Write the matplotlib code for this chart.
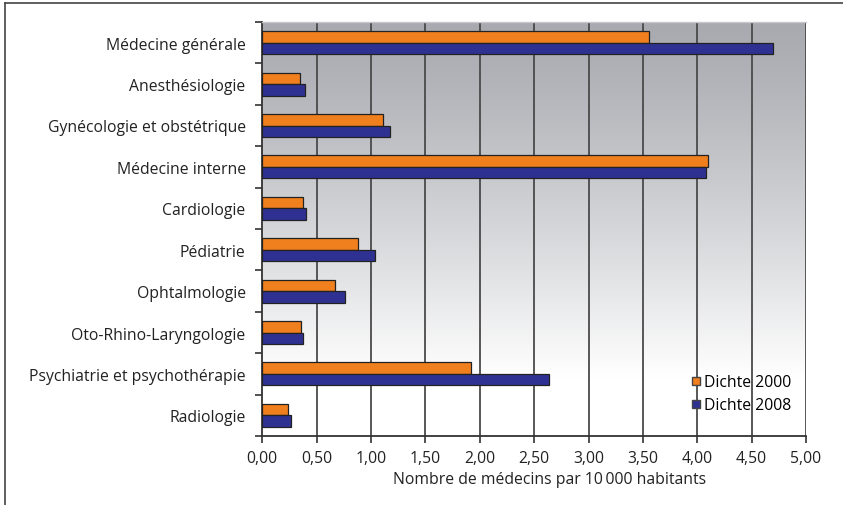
import numpy as np
import matplotlib
matplotlib.use("Agg")
import matplotlib.pyplot as plt
from matplotlib.lines import Line2D

plt.rcParams['font.family'] = ['Open Sans', 'DejaVu Sans']

categories = [
    "Médecine générale",
    "Anesthésiologie",
    "Gynécologie et obstétrique",
    "Médecine interne",
    "Cardiologie",
    "Pédiatrie",
    "Ophtalmologie",
    "Oto-Rhino-Laryngologie",
    "Psychiatrie et psychothérapie",
    "Radiologie",
]
dichte_2000 = [3.56, 0.35, 1.11, 4.10, 0.37, 0.88, 0.67, 0.36, 1.92, 0.24]
dichte_2008 = [4.70, 0.39, 1.17, 4.08, 0.40, 1.04, 0.76, 0.37, 2.64, 0.26]
series_labels = ["Dichte 2000", "Dichte 2008"]
xticks = [0, 0.5, 1.0, 1.5, 2.0, 2.5, 3.0, 3.5, 4.0, 4.5, 5.0]
xlabel = "Nombre de médecins par 10\u2009000 habitants"

orange = "#f07f1e"
blue = "#2e3192"
fs = 11.3

fig = plt.figure(figsize=(8.43, 5.06), dpi=100)
ax = fig.add_axes([262.3 / 843, 1 - 437 / 506, (806 - 262.3) / 843, (437 - 23) / 506])

n = len(categories)
ax.set_xlim(0, 5)
ax.set_ylim(n - 0.5, -0.5)

# grey-to-white vertical gradient behind the bars
t = np.linspace(0, 1, 300)
shade = np.clip(t / 0.86, 0, 1) ** 1.2
top = np.array([0.66, 0.667, 0.69])
rgb = top[None, :] + (1 - top[None, :]) * shade[:, None]
img = np.repeat(rgb[:, None, :], 2, axis=1)
ax.imshow(img, extent=[0, 5, n - 0.5, -0.5], aspect="auto", zorder=0,
          interpolation="bilinear")

# vertical grid lines
for xv in xticks[1:]:
    ax.axvline(xv, color="#4a4a4a", lw=1.3, zorder=1)

y = np.arange(n)
h = 0.28
ax.barh(y - h / 2, dichte_2000, height=h, color=orange, edgecolor="#222222",
        linewidth=0.9, zorder=3, label=series_labels[0])
ax.barh(y + h / 2, dichte_2008, height=h, color=blue, edgecolor="#222222",
        linewidth=0.9, zorder=3, label=series_labels[1])

ax.set_yticks(y)
ax.set_yticklabels(categories, fontsize=fs, color="#222222")
ax.set_yticks(np.arange(-0.5, n, 1), minor=True)
ax.tick_params(axis="y", which="major", length=0, pad=12)
ax.tick_params(axis="y", which="minor", length=5, width=1.2, color="#333333")

ax.set_xticks(xticks)
ax.set_xticklabels([f"{v:.2f}".replace(".", ",") for v in xticks],
                   fontsize=fs, color="#222222")
ax.tick_params(axis="x", length=5, width=1.2, color="#333333", pad=5)
ax.set_xlabel(xlabel, fontsize=fs, color="#222222", labelpad=5)
ax.xaxis.set_label_coords(0.528, -0.085)

for side in ["left", "bottom"]:
    ax.spines[side].set_color("#333333")
    ax.spines[side].set_linewidth(1.3)
ax.spines["right"].set_visible(False)
ax.spines["top"].set_color("#c8c8cc")
ax.spines["top"].set_linewidth(1.0)

handles = [
    Line2D([], [], marker="s", ls="", markersize=6, markerfacecolor=orange,
           markeredgecolor="#444444", markeredgewidth=1.0),
    Line2D([], [], marker="s", ls="", markersize=6, markerfacecolor=blue,
           markeredgecolor="#444444", markeredgewidth=1.0),
]
ax.legend(handles, series_labels, loc="lower right",
          bbox_to_anchor=(0.984, 0.04), frameon=False, fontsize=fs,
          handlelength=0.6, handletextpad=0.2, labelspacing=0.45,
          borderaxespad=0)

# outer frame lines of the figure
fig.add_artist(Line2D([5 / 843, 1], [1 - 4 / 506, 1 - 4 / 506],
                      transform=fig.transFigure, color="#444444", lw=1.2))
fig.add_artist(Line2D([5 / 843, 5 / 843], [0, 1 - 4 / 506],
                      transform=fig.transFigure, color="#444444", lw=1.2))

fig.savefig("out.png", dpi=100)
